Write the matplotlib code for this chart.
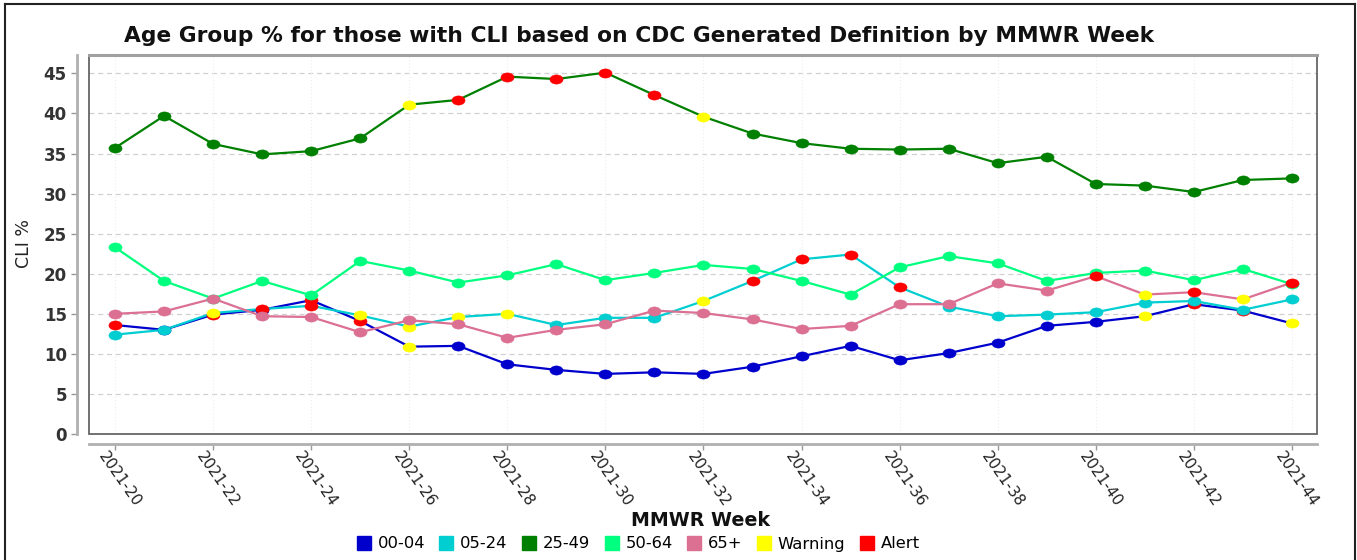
import matplotlib
matplotlib.use("Agg")
import matplotlib.pyplot as plt
import numpy as np
from matplotlib.path import Path
from matplotlib.lines import Line2D
from matplotlib.patches import Rectangle
import matplotlib.transforms as mtransforms

plt.rcParams['font.family'] = ['DejaVu Sans']

weeks = [f"2021-{w}" for w in range(20, 45)]
tick_weeks = weeks[::2]

series_names = ['00-04', '05-24', '25-49', '50-64', '65+']
series_colors = ['#0000CD', '#00CED1', '#008000', '#00FF7F', '#DB7093']
flag_names = ['Warning', 'Alert']
flag_colors = {'W': '#FFFF00', 'A': '#FF0000'}

v_00_04 = [13.6, 13.0, 14.9, 15.5, 16.7, 14.1, 10.9, 11.0, 8.7, 8.0, 7.5, 7.7, 7.5,
           8.4, 9.7, 11.0, 9.2, 10.1, 11.4, 13.5, 14.0, 14.7, 16.2, 15.4, 13.8]
v_05_24 = [12.4, 13.0, 15.1, 15.6, 16.0, 14.8, 13.4, 14.6, 15.0, 13.6, 14.5, 14.5, 16.6,
           19.1, 21.8, 22.4, 18.3, 15.9, 14.7, 14.9, 15.2, 16.4, 16.6, 15.5, 16.8]
v_25_49 = [35.7, 39.7, 36.2, 34.9, 35.3, 36.9, 41.1, 41.7, 44.6, 44.3, 45.1, 42.3, 39.6,
           37.5, 36.3, 35.6, 35.5, 35.6, 33.8, 34.6, 31.2, 31.0, 30.2, 31.7, 31.9]
v_50_64 = [23.3, 19.1, 16.9, 19.1, 17.3, 21.6, 20.4, 18.9, 19.8, 21.2, 19.2, 20.1, 21.1,
           20.6, 19.1, 17.4, 20.8, 22.2, 21.3, 19.1, 20.1, 20.4, 19.2, 20.6, 18.7]
v_65p = [15.0, 15.3, 16.9, 14.7, 14.6, 12.7, 14.2, 13.7, 12.0, 13.0, 13.7, 15.4, 15.1,
         14.3, 13.1, 13.5, 16.2, 16.2, 18.8, 17.9, 19.7, 17.4, 17.7, 16.8, 18.9]

f_00_04 = ['A', '', 'A', '', 'A', 'A', 'W', '', '', '', '', '', '',
           '', '', '', '', '', '', '', '', 'W', 'A', 'A', 'W']
f_05_24 = ['', '', 'W', 'A', 'A', 'W', 'W', 'W', 'W', '', '', '', 'W',
           'A', 'A', 'A', 'A', '', '', '', '', '', '', '', '']
f_25_49 = ['', '', '', '', '', '', 'W', 'A', 'A', 'A', 'A', 'A', 'W',
           '', '', '', '', '', '', '', '', '', '', '', '']
f_50_64 = [''] * 25
f_65p = ['', '', '', '', '', '', '', '', '', '', '', '', '',
         '', '', '', '', '', '', '', 'A', 'W', 'A', 'W', 'A']

values = [v_00_04, v_05_24, v_25_49, v_50_64, v_65p]
flags = [f_00_04, f_05_24, f_25_49, f_50_64, f_65p]

W, H = 1357, 560
fig = plt.figure(figsize=(W / 100, H / 100), dpi=100)
ax = fig.add_axes([89 / W, 1 - 434 / H, (1317 - 89) / W, (434 - 55) / H])

x = np.arange(len(weeks))

# elliptical marker (source image is horizontally stretched)
t = np.linspace(0, 2 * np.pi, 60)
ell = Path(np.column_stack([np.cos(t), 0.7 * np.sin(t)]), closed=True)

for vals, fl, col in zip(values, flags, series_colors):
    ax.plot(x, vals, color=col, lw=1.6, zorder=3)
    fcols = [flag_colors.get(f, col) for f in fl]
    for xi, yi, fc in zip(x, vals, fcols):
        ax.plot([xi], [yi], linestyle='none', marker=ell, markersize=9.5,
                markerfacecolor=fc, markeredgecolor=fc, markeredgewidth=0.3, zorder=4)

ax.set_xlim(-0.53, len(weeks) - 1 + 0.51)
ax.set_ylim(0, 47.3)
ax.set_yticks(np.arange(0, 46, 5))
ax.set_xticks(x[::2])
ax.set_xticklabels(tick_weeks)

# grid
for yv in np.arange(5, 46, 5):
    ax.axhline(yv, color='#d0d0d0', lw=0.9, ls=(0, (4, 3)), zorder=1)
for xv in x[::2]:
    ax.axvline(xv, color='#eeeeee', lw=0.8, ls=(0, (1, 2)), zorder=1)

# spines: offset axis lines + box
for s in ['top', 'right']:
    ax.spines[s].set_visible(False)
ax.spines['left'].set_position(('outward', 9))
ax.spines['bottom'].set_position(('outward', 7))
for s in ['left', 'bottom']:
    ax.spines[s].set_color('#b0b0b0')
    ax.spines[s].set_linewidth(2)
ax.add_patch(Rectangle((0, 0), 1, 1, transform=ax.transAxes, fill=False,
                       edgecolor='#666666', lw=1.3, clip_on=False, zorder=5))
ax.plot([0, 1], [1, 1], transform=ax.transAxes, color='#a0a0a0', lw=2.2,
        clip_on=False, zorder=6)

ax.tick_params(axis='both', direction='out', color='#999999', length=4, width=1)
ax.tick_params(axis='y', labelsize=12, labelcolor='#333333', pad=3)
for lab in ax.get_yticklabels():
    lab.set_fontweight('bold')
ax.tick_params(axis='x', labelsize=11, labelcolor='#222222', pad=0)
offset = mtransforms.ScaledTranslation(-7 / 100, 0, fig.dpi_scale_trans)
for lab in ax.get_xticklabels():
    lab.set_rotation(-55)
    lab.set_ha('left')
    lab.set_va('top')
    lab.set_rotation_mode('anchor')
    lab.set_transform(lab.get_transform() + offset)

ax.set_ylabel('CLI %', fontsize=12.5, color='#222222')
ax.yaxis.set_label_coords(-(89 - 33) / (1317 - 89), 0.5 - (243 - 244) / 379)

fig.text(639 / W, 1 - 36 / H, 'Age Group % for those with CLI based on CDC Generated Definition by MMWR Week',
         ha='center', va='center', fontsize=15.7, fontweight='bold', color='#111111')
fig.text(701 / W, 1 - 521 / H, 'MMWR Week', ha='center', va='center',
         fontsize=13.7, fontweight='bold', color='#111111')

handles = [Line2D([], [], linestyle='none', marker='s', markersize=10,
                  markerfacecolor=c, markeredgecolor=c)
           for c in series_colors + [flag_colors['W'], flag_colors['A']]]
labels = series_names + flag_names
fig.legend(handles, labels, loc='center', bbox_to_anchor=(638 / W, 1 - 544 / H),
           ncol=7, frameon=False, fontsize=11.8, handlelength=0.9, handletextpad=0.4,
           columnspacing=0.85, borderpad=0)

# figure border
for xs, ys in [([4.5, 4.5], [0, H - 3.5]), ([4.5, 1355], [H - 3.5, H - 3.5]),
               ([1355, 1355], [0, H - 3.5])]:
    fig.add_artist(Line2D([v / W for v in xs], [v / H for v in ys], color='#222222', lw=1.5))

fig.savefig('out.png', dpi=100)
